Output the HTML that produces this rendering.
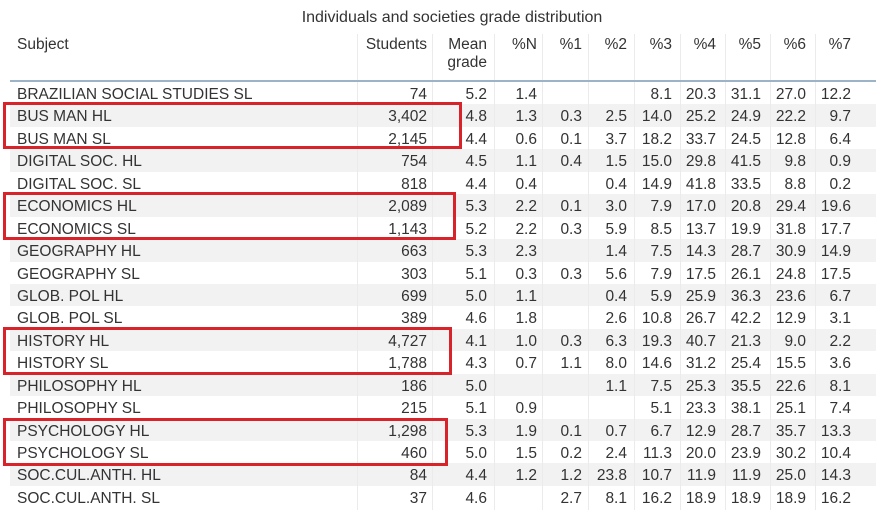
<!DOCTYPE html>
<html><head><meta charset="utf-8">
<style>
body{margin:0;width:882px;height:514px;background:#fff;overflow:hidden;font-family:"Liberation Sans",Arial,sans-serif;color:#333;position:relative}
.t{position:absolute;white-space:nowrap;font-size:15.5px;line-height:22px}
.r{text-align:right}
.row{position:absolute;left:10px;width:866px}
.vl{position:absolute;width:1px;background:#ebebeb}
.box{position:absolute;border:3px solid #d8232a;box-sizing:border-box}
</style></head><body>
<div class="t" style="left:0;width:904px;text-align:center;top:7px;font-size:16px">Individuals and societies grade distribution</div>
<div id="tbl"></div>
<div style="position:absolute;left:10px;width:866px;top:80px;height:2px;background:#9db3c8"></div>
<div class="box" style="left:3px;top:102px;width:459px;height:47px"></div>
<div class="box" style="left:3px;top:192px;width:453px;height:48px"></div>
<div class="box" style="left:3px;top:327px;width:449px;height:48px"></div>
<div class="box" style="left:3px;top:418px;width:445px;height:48px"></div>
<script>
const subjects=["BRAZILIAN SOCIAL STUDIES SL","BUS MAN HL","BUS MAN SL","DIGITAL SOC. HL","DIGITAL SOC. SL","ECONOMICS HL","ECONOMICS SL","GEOGRAPHY HL","GEOGRAPHY SL","GLOB. POL HL","GLOB. POL SL","HISTORY HL","HISTORY SL","PHILOSOPHY HL","PHILOSOPHY SL","PSYCHOLOGY HL","PSYCHOLOGY SL","SOC.CUL.ANTH. HL","SOC.CUL.ANTH. SL"];
const students=["74","3,402","2,145","754","818","2,089","1,143","663","303","699","389","4,727","1,788","186","215","1,298","460","84","37"];
const meanGrade=["5.2","4.8","4.4","4.5","4.4","5.3","5.2","5.3","5.1","5.0","4.6","4.1","4.3","5.0","5.1","5.3","5.0","4.4","4.6"];
const pctN=["1.4","1.3","0.6","1.1","0.4","2.2","2.2","2.3","0.3","1.1","1.8","1.0","0.7","","0.9","1.9","1.5","1.2",""];
const pct1=["","0.3","0.1","0.4","","0.1","0.3","","0.3","","","0.3","1.1","","","0.1","0.2","1.2","2.7"];
const pct2=["","2.5","3.7","1.5","0.4","3.0","5.9","1.4","5.6","0.4","2.6","6.3","8.0","1.1","","0.7","2.4","23.8","8.1"];
const pct3=["8.1","14.0","18.2","15.0","14.9","7.9","8.5","7.5","7.9","5.9","10.8","19.3","14.6","7.5","5.1","6.7","11.3","10.7","16.2"];
const pct4=["20.3","25.2","33.7","29.8","41.8","17.0","13.7","14.3","17.5","25.9","26.7","40.7","31.2","25.3","23.3","12.9","20.0","11.9","18.9"];
const pct5=["31.1","24.9","24.5","41.5","33.5","20.8","19.9","28.7","26.1","36.3","42.2","21.3","25.4","35.5","38.1","28.7","23.9","11.9","18.9"];
const pct6=["27.0","22.2","12.8","9.8","8.8","29.4","31.8","30.9","24.8","23.6","12.9","9.0","15.5","22.6","25.1","35.7","30.2","25.0","18.9"];
const pct7=["12.2","9.7","6.4","0.9","0.2","19.6","17.7","14.9","17.5","6.7","3.1","2.2","3.6","8.1","7.4","13.3","10.4","14.3","16.2"];
const headers=["Students","Mean<br>grade","%N","%1","%2","%3","%4","%5","%6","%7"];
const cols=[students,meanGrade,pctN,pct1,pct2,pct3,pct4,pct5,pct6,pct7];
const rightEdge=[427,487,537,582,627,672,716,761,806,851];
const vlines=[357,432,494,542,588,634,680,725,770,815];
const tbl=document.getElementById('tbl');
const rowTop=82,rowH=22.44;
subjects.forEach((s,i)=>{
  if(i%2==1){const bg=document.createElement('div');bg.className='row';
  
  
  bg.style.top=(rowTop+i*rowH)+'px';bg.style.height=rowH+'px';bg.style.background='#f2f2f2';tbl.appendChild(bg);}
});
vlines.forEach(x=>{const v=document.createElement('div');v.className='vl';


v.style.left=x+'px';v.style.top='34px';v.style.height='476px';tbl.appendChild(v);});
const h0=document.createElement('div');h0.className='t';


h0.style.left='17px';h0.style.top='34px';h0.textContent='Subject';tbl.appendChild(h0);
headers.forEach((h,j)=>{const d=document.createElement('div');d.className='t r';


d.style.right=(882-rightEdge[j])+'px';d.style.top='34px';d.style.lineHeight='18px';d.style.marginTop='2px';d.innerHTML=h;tbl.appendChild(d);});
subjects.forEach((s,i)=>{
  const y=rowTop+i*rowH+2;
  const n=document.createElement('div');n.className='t';
  
  
  n.style.left='17px';n.style.top=y+'px';n.textContent=s;tbl.appendChild(n);
  cols.forEach((c,j)=>{if(!c[i])return;const d=document.createElement('div');d.className='t r';
    
    
    d.style.right=(882-rightEdge[j])+'px';d.style.top=y+'px';d.textContent=c[i];tbl.appendChild(d);});
});
</script>
</body></html>
